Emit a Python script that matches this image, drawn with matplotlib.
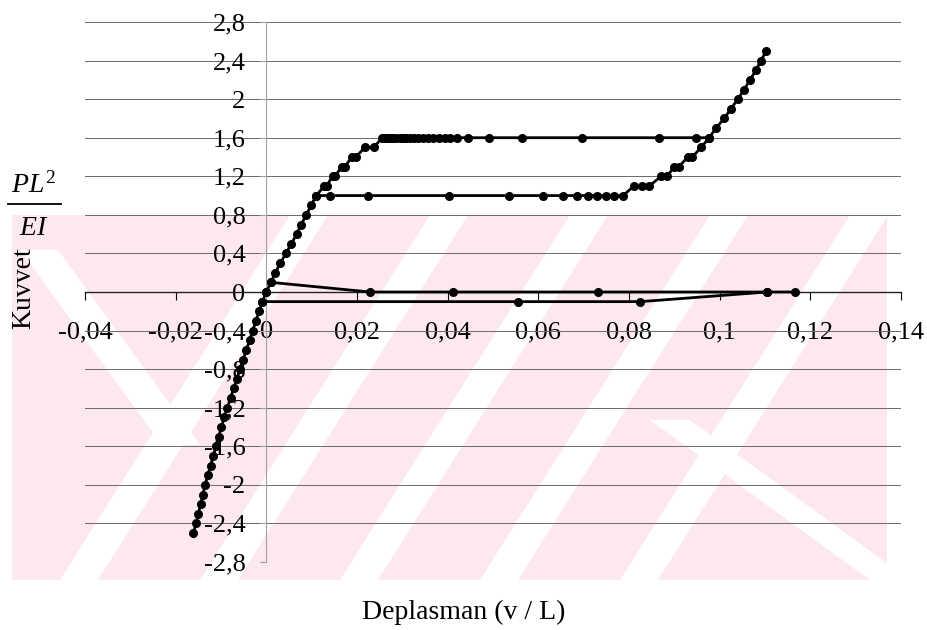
import matplotlib
matplotlib.use('Agg')
import matplotlib.pyplot as plt
from matplotlib.patches import Polygon, Rectangle
from matplotlib.lines import Line2D

plt.rcParams['font.family'] = ['Liberation Serif', 'DejaVu Serif']
plt.rcParams['mathtext.fontset'] = 'custom'
plt.rcParams['mathtext.rm'] = 'Liberation Serif'
plt.rcParams['mathtext.it'] = 'Liberation Serif:italic'

# ---------------- data ----------------
x_ticks = [-0.04, -0.02, 0.0, 0.02, 0.04, 0.06, 0.08, 0.10, 0.12, 0.14]
x_tick_labels = ['-0,04', '-0,02', '0', '0,02', '0,04', '0,06', '0,08', '0,1', '0,12', '0,14']
y_ticks = [2.8, 2.4, 2.0, 1.6, 1.2, 0.8, 0.4, 0.0, -0.4, -0.8, -1.2, -1.6, -2.0, -2.4, -2.8]
y_tick_labels = ['2,8', '2,4', '2', '1,6', '1,2', '0,8', '0,4', '0', '-0,4', '-0,8', '-1,2',
                 '-1,6', '-2', '-2,4', '-2,8']

# loading branch rising to the 1.6 plateau
a_x = [0.0, 0.0010, 0.0020, 0.0031, 0.0043, 0.0055, 0.0067, 0.0077, 0.0088, 0.0099, 0.0110,
       0.0128, 0.0133, 0.0146, 0.0151, 0.0167, 0.0173, 0.0189, 0.0197, 0.0218, 0.0237,
       0.0256, 0.0262, 0.0268, 0.0274, 0.0280, 0.0287, 0.0294, 0.0301, 0.0309, 0.0317,
       0.0326, 0.0335, 0.0345, 0.0356, 0.0368, 0.0381, 0.0395, 0.0406, 0.0421, 0.0445,
       0.0492, 0.0565, 0.0697, 0.0867, 0.0948, 0.0977]
a_y = [0.0, 0.1, 0.2, 0.3, 0.4, 0.5, 0.6, 0.7, 0.8, 0.9, 1.0,
       1.1, 1.1, 1.2, 1.2, 1.3, 1.3, 1.4, 1.4, 1.5, 1.5,
       1.6, 1.6, 1.6, 1.6, 1.6, 1.6, 1.6, 1.6, 1.6, 1.6,
       1.6, 1.6, 1.6, 1.6, 1.6, 1.6, 1.6, 1.6, 1.6, 1.6,
       1.6, 1.6, 1.6, 1.6, 1.6, 1.6]

# branch on the 1.0 plateau, then rising to 2.5
b_x = [0.0110, 0.0141, 0.0225, 0.0404, 0.0536, 0.0611, 0.0655, 0.0686, 0.0710, 0.0730,
       0.0750, 0.0767, 0.0787, 0.0811, 0.0828, 0.0845, 0.0871, 0.0884, 0.0900, 0.0910,
       0.0930, 0.0940, 0.0959, 0.0977, 0.0992, 0.1010, 0.1025, 0.1040, 0.1054, 0.1067,
       0.1080, 0.1091, 0.1103]
b_y = [1.0, 1.0, 1.0, 1.0, 1.0, 1.0, 1.0, 1.0, 1.0, 1.0,
       1.0, 1.0, 1.0, 1.1, 1.1, 1.1, 1.2, 1.2, 1.3, 1.3,
       1.4, 1.4, 1.5, 1.6, 1.7, 1.8, 1.9, 2.0, 2.1, 2.2,
       2.3, 2.4, 2.5]

# compressive branch
n_x = [-0.0161, -0.0155, -0.0150, -0.0145, -0.0140, -0.0135, -0.0129, -0.0123, -0.0117,
       -0.0111, -0.0105, -0.0099, -0.0093, -0.0086, -0.0079, -0.0072, -0.0065, -0.0058,
       -0.0051, -0.0044, -0.0037, -0.0030, -0.0023, -0.0016, -0.0009, 0.0]
n_y = [-2.5, -2.4, -2.3, -2.2, -2.1, -2.0, -1.9, -1.8, -1.7,
       -1.6, -1.5, -1.4, -1.3, -1.2, -1.1, -1.0, -0.9, -0.8,
       -0.7, -0.6, -0.5, -0.4, -0.3, -0.2, -0.1, 0.0]

# near-zero branches
c_x = [0.0010, 0.0229, 0.0412, 0.0732, 0.1105, 0.1166]
c_y = [0.1, 0.0, 0.0, 0.0, 0.0, 0.0]
d_x = [-0.0009, 0.0556, 0.0825, 0.1105]
d_y = [-0.1, -0.1, -0.1, 0.0]

# ---------------- figure ----------------
W, H = 928, 630
fig = plt.figure(figsize=(W / 100, H / 100), dpi=100)


def fx(px):
    return px / W


def fy(py):
    return 1 - py / H


# faint watermark in the background (scan artefact)
pink = '#fde9ed'
clip = Rectangle((fx(12), fy(580)), fx(875), 365 / H, transform=fig.transFigure,
                 facecolor=pink, edgecolor='none', zorder=-5)
fig.add_artist(clip)
stripes = []
for x0 in [60, 200, 340, 480, 620]:
    stripes.append([(x0, 580), (x0 + 38, 580), (x0 + 38 + 230, 215), (x0 + 230, 215)])
# right-hand "\" band below the apex, and the upper-left "\" band of the left chevron
stripes.append([(650, 420), (690, 420), (910, 580), (870, 580)])
stripes.append([(20, 250), (58, 250), (200, 445), (162, 445)])
for s in stripes:
    p = Polygon([(fx(a), fy(b)) for a, b in s], closed=True, transform=fig.transFigure,
                facecolor='white', edgecolor='none', zorder=-4)
    fig.add_artist(p)
    p.set_clip_path(clip)

ax = fig.add_axes([fx(85), fy(562), fx(901) - fx(85), (562 - 22) / H])
ax.set_facecolor('none')
ax.set_xlim(-0.04, 0.14)
ax.set_ylim(-2.8, 2.8)

for sp in ['top', 'right']:
    ax.spines[sp].set_visible(False)
ax.spines['left'].set_position(('data', 0))
ax.spines['bottom'].set_position(('data', 0))
ax.spines['left'].set_color('#a0a0a0')
ax.spines['left'].set_linewidth(0.8)
ax.spines['bottom'].set_color('#222222')
ax.spines['bottom'].set_linewidth(1.0)

ax.set_xticks(x_ticks)
ax.set_xticklabels(x_tick_labels)
ax.set_yticks(y_ticks)
ax.set_yticklabels(y_tick_labels)
ax.tick_params(axis='x', direction='out', length=6, width=0.8, pad=15, labelsize=19)
ax.tick_params(axis='y', direction='out', length=4, width=0.8, color='#a0a0a0', pad=11,
               labelsize=19)

ax.yaxis.grid(True, color='#6a6a6a', linewidth=0.7)
ax.set_axisbelow(True)

mk = dict(color='black', marker='o', markersize=5.5, linewidth=2.0, clip_on=False, zorder=5)
ax.plot(n_x, n_y, **mk)
ax.plot(d_x, d_y, **mk)
ax.plot(c_x, c_y, **mk)
ax.plot(b_x, b_y, **mk)
ax.plot(a_x, a_y, **mk)

# axis titles
fig.text(fx(24), fy(288), 'Kuvvet', rotation=90, ha='center', va='center', fontsize=20)
fig.text(fx(34), fy(193), r'$PL^2$', ha='center', va='baseline', fontsize=20)
fig.add_artist(Line2D([fx(8), fx(61)], [fy(204), fy(204)], transform=fig.transFigure,
                      color='black', linewidth=1.3))
fig.text(fx(34), fy(235), r'$EI$', ha='center', va='baseline', fontsize=20)
fig.text(fx(464), fy(612), 'Deplasman (v / L)', ha='center', va='center', fontsize=20)

fig.savefig('out.png', dpi=100)
